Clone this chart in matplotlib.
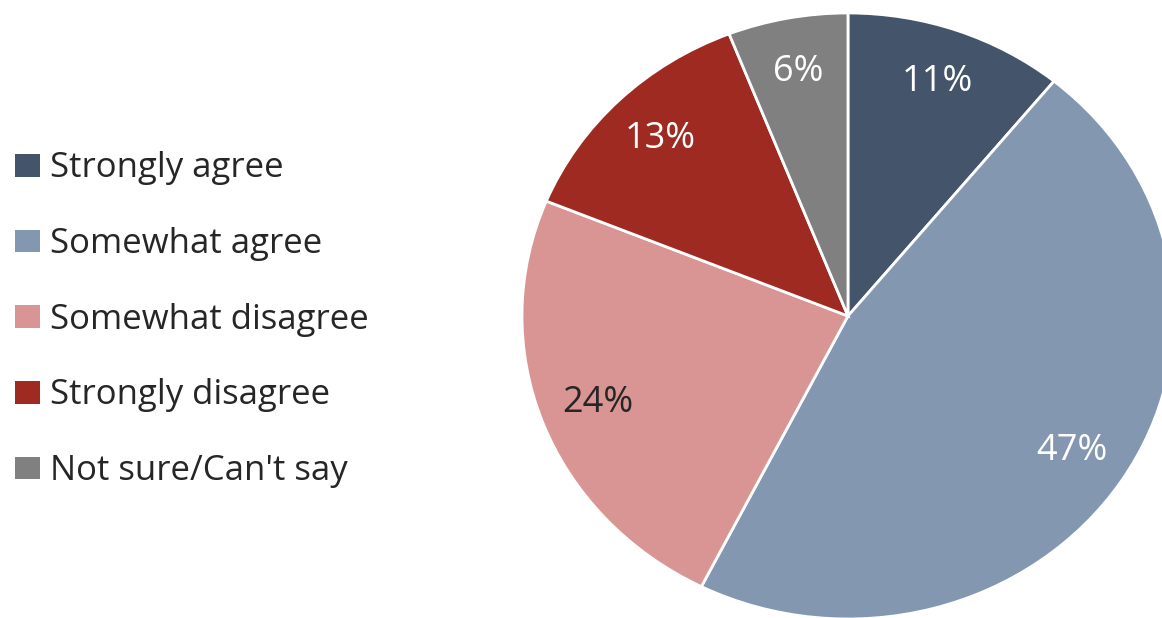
import matplotlib
matplotlib.use("Agg")
import matplotlib.pyplot as plt
from matplotlib.patches import Patch

# survey answers, share of respondents (%)
categories = ["Strongly agree", "Somewhat agree", "Somewhat disagree",
              "Strongly disagree", "Not sure/Can't say"]
shares = [11, 47, 24, 13, 6]
colors = ["#44546A", "#8497B0", "#D99594", "#9E2A22", "#808080"]
label_colors = ["white", "white", "#262626", "white", "white"]

plt.rcParams["font.family"] = ["Open Sans", "DejaVu Sans"]

fig = plt.figure(figsize=(11.62, 6.18), dpi=100)
ax = fig.add_axes([0.4492, -0.0016, 0.5611, 0.9806])

wedges, texts = ax.pie(
    shares, colors=colors, startangle=90, counterclock=False, radius=1,
    labels=[f"{v}%" for v in shares], labeldistance=0.82,
    wedgeprops=dict(edgecolor="white", linewidth=2),
    textprops=dict(fontsize=26, ha="center", va="center"),
)
for t, c in zip(texts, label_colors):
    t.set_color(c)

# slightly wider than tall
ax.set_aspect("auto")
ax.set_xlim(-1, 1)
ax.set_ylim(-1, 1)

# plain square keys (no white wedge border)
handles = [Patch(facecolor=c, edgecolor="none") for c in colors]
fig.legend(handles, categories, loc="center left",
           bbox_to_anchor=(0.0129, 0.4825), frameon=False,
           fontsize=25, labelcolor="#262626", borderpad=0,
           handlelength=0.72, handleheight=0.63, handletextpad=0.29,
           labelspacing=1.2, borderaxespad=0)

fig.savefig("out.png", dpi=100, facecolor="white")
